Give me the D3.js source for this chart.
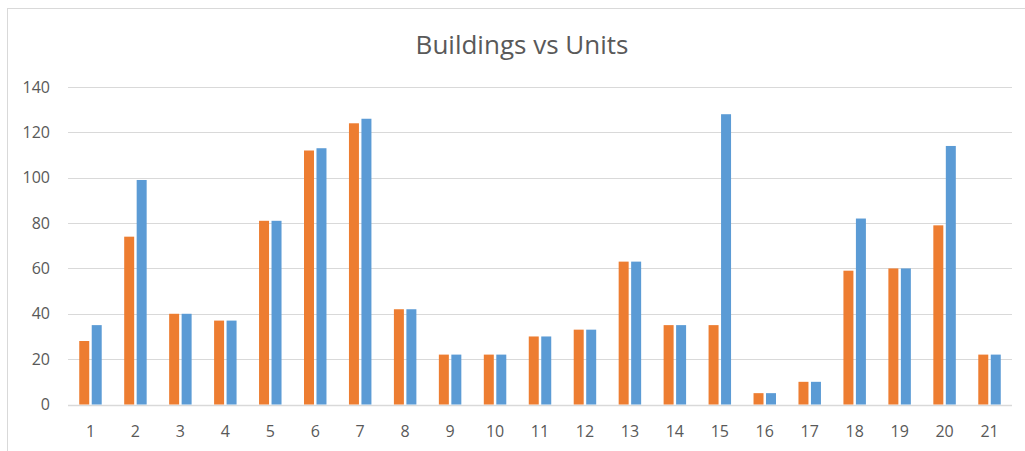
<!DOCTYPE html>
<html>
<head>
<meta charset="utf-8">
<script src="https://cdn.jsdelivr.net/npm/d3@7"></script>
<style>
  body { margin: 0; background: #fff; }
  text { font-family: "Open Sans", "Noto Sans", sans-serif; fill: #595959; }
</style>
</head>
<body>
<div id="chart"></div>
<script>
// chart data
const categories = ["1","2","3","4","5","6","7","8","9","10","11","12","13","14","15","16","17","18","19","20","21"];
const buildings = [28, 74, 40, 37, 81, 112, 124, 42, 22, 22, 30, 33, 63, 35, 35, 5, 10, 59, 60, 79, 22];
const units     = [35, 99, 40, 37, 81, 113, 126, 42, 22, 22, 30, 33, 63, 35, 128, 5, 10, 82, 60, 114, 22];
const yTicks = [0, 20, 40, 60, 80, 100, 120, 140];
const seriesNames = ["Buildings", "Units"];
const colors = ["#ED7D31", "#5B9BD5"];

const width = 1025, height = 451;
const margin = {top: 87, right: 13, bottom: 46, left: 68};

let svg = d3.select("#chart")
    .append("svg")
    .attr("width", width)
    .attr("height", height);

// outer chart frame
svg.append("rect")
    .attr("x", 7.5).attr("y", 8.5)
    .attr("width", width + 10).attr("height", height + 10)
    .attr("fill", "none")
    .attr("stroke", "#d9d9d9");

let x0 = d3.scaleBand()
    .domain(categories)
    .range([margin.left, width - margin.right])
    .paddingInner(0.5)
    .paddingOuter(0.25);

let x1 = d3.scaleBand()
    .domain(seriesNames)
    .range([0, x0.bandwidth()])
    .paddingInner(0.2);

let y = d3.scaleLinear()
    .domain([0, 140])
    .range([height - margin.bottom - 0.5, margin.top]);

// gridlines
svg.append("g")
    .selectAll("line")
    .data(yTicks)
    .enter()
    .append("line")
    .attr("x1", margin.left)
    .attr("x2", width - margin.right)
    .attr("y1", d => Math.round(y(d)) + 0.5)
    .attr("y2", d => Math.round(y(d)) + 0.5)
    .attr("stroke", "#d9d9d9")
    .attr("stroke-width", d => d === 0 ? 1.5 : 1);

// y labels
let yAxis = svg.append("g")
    .attr("transform", `translate(${margin.left - 18}, 0)`)
    .call(d3.axisLeft(y).tickValues(yTicks).tickSize(0).tickPadding(0));
yAxis.select(".domain").remove();
yAxis.selectAll("text")
    .style("font-size", "16px")
    .style("font-family", "\"Open Sans\", \"Noto Sans\", sans-serif")
    .attr("fill", "#595959");

// x labels
let xAxis = svg.append("g")
    .attr("transform", `translate(0, ${y(0)})`)
    .call(d3.axisBottom(x0).tickSize(0).tickPadding(21));
xAxis.select(".domain").remove();
xAxis.selectAll("text")
    .style("font-size", "16px")
    .style("font-family", "\"Open Sans\", \"Noto Sans\", sans-serif")
    .attr("fill", "#595959");

// bars
let rows = categories.map((c, i) => ({cat: c, values: [buildings[i], units[i]]}));

let groups = svg.append("g")
    .selectAll("g")
    .data(rows)
    .enter()
    .append("g")
    .attr("transform", d => `translate(${x0(d.cat)}, 0)`);

groups.selectAll("rect")
    .data(d => d.values.map((v, i) => ({name: seriesNames[i], value: v, idx: i})))
    .enter()
    .append("rect")
    .attr("x", d => x1(d.name))
    .attr("y", d => y(d.value))
    .attr("width", x1.bandwidth())
    .attr("height", d => y(0) - y(d.value))
    .attr("fill", d => colors[d.idx]);

// title
svg.append("text")
    .attr("x", 522)
    .attr("y", 54)
    .style("text-anchor", "middle")
    .style("font-size", "26px")
    .text("Buildings vs Units");
</script>
</body>
</html>
